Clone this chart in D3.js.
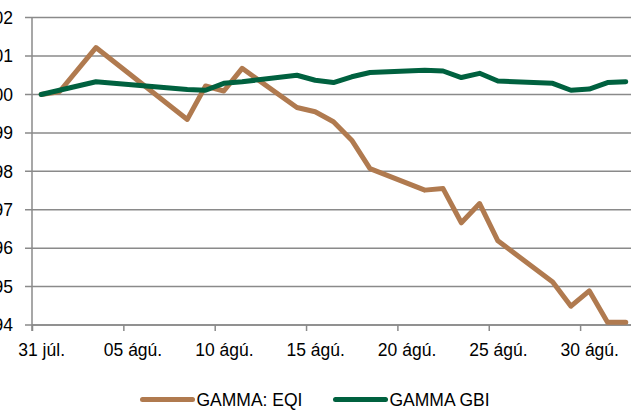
<!DOCTYPE html>
<html>
<head>
<meta charset="utf-8">
<script src="https://cdn.jsdelivr.net/npm/d3@7"></script>
<style>
  body { margin: 0; background: #fff; }
  svg { display: block; font-family: "Liberation Sans", Arial, sans-serif; }
</style>
</head>
<body>
<svg width="631" height="410"></svg>
<script>
const svgWidth = 631;
const svgHeight = 410;

// data (dates as day of month, Jul 31 -> Sep 1)
const dates = [
  "2013-07-31", "2013-08-01", "2013-08-03", "2013-08-08", "2013-08-09",
  "2013-08-10", "2013-08-11", "2013-08-14", "2013-08-15", "2013-08-16",
  "2013-08-17", "2013-08-18", "2013-08-21", "2013-08-22", "2013-08-23",
  "2013-08-24", "2013-08-25", "2013-08-28", "2013-08-29", "2013-08-30",
  "2013-08-31", "2013-09-01",
];
const eqiValues = [
  100.0, 100.07, 101.22, 99.35, 100.22,
  100.09, 100.68, 99.66, 99.55, 99.29,
  98.81, 98.07, 97.51, 97.55, 96.66,
  97.16, 96.19, 95.12, 94.49, 94.89,
  94.07, 94.07,
];
const gbiValues = [
  100.0, 100.11, 100.33, 100.13, 100.11,
  100.29, 100.33, 100.5, 100.37, 100.31,
  100.46, 100.57, 100.63, 100.61, 100.44,
  100.55, 100.35, 100.29, 100.11, 100.14,
  100.31, 100.33,
];
const yTicks = [94, 95, 96, 97, 98, 99, 100, 101, 102];
const xTickDates = ["2013-07-31", "2013-08-05", "2013-08-10", "2013-08-15", "2013-08-20", "2013-08-25", "2013-08-30"];
const xTickLabels = ["31 júl.", "05 ágú.", "10 ágú.", "15 ágú.", "20 ágú.", "25 ágú.", "30 ágú."];
const seriesNames = ["GAMMA: EQI", "GAMMA GBI"];
const seriesColors = ["#b07a4f", "#00613f"];

const svg = d3.select("svg");

const margin = { left: 32, top: 17.6, bottom: 325 };
const gridColor = "#8a8a8a";
const dayPx = 18.27;
const halfDay = 12 * 3600 * 1000;

const parse = d3.utcParse("%Y-%m-%d");
const start = parse("2013-07-31");
const end = d3.utcDay.offset(start, 34);

const xScaler = d3.scaleUtc().domain([start, end]).range([margin.left, margin.left + 34 * dayPx]);
const yScaler = d3.scaleLinear().domain([94, 102]).range([margin.bottom, margin.top]);

// gridlines
svg.append("g")
  .selectAll("line")
  .data(yTicks)
  .join("line")
  .attr("x1", margin.left - 7)
  .attr("x2", svgWidth)
  .attr("y1", (d) => yScaler(d))
  .attr("y2", (d) => yScaler(d))
  .attr("stroke", gridColor)
  .attr("stroke-width", 1.5);

// y labels
svg.append("g")
  .selectAll("text")
  .data(yTicks)
  .join("text")
  .attr("x", 13)
  .attr("y", (d) => yScaler(d))
  .attr("dy", "0.36em")
  .attr("text-anchor", "end")
  .attr("font-size", 17.5)
  .attr("fill", "#000")
  .text((d) => d);

// y axis line
svg.append("line")
  .attr("x1", margin.left).attr("x2", margin.left)
  .attr("y1", margin.top).attr("y2", margin.bottom + 6)
  .attr("stroke", gridColor).attr("stroke-width", 1.5);

// x axis
const tickDates = xTickDates.map(parse);
const xAxisGroup = svg.append("g")
  .attr("transform", `translate(0, ${margin.bottom})`)
  .call(
    d3.axisBottom(xScaler)
      .tickValues(tickDates)
      .tickSize(6)
      .tickSizeOuter(0)
      .tickFormat((d, i) => xTickLabels[i])
  );
xAxisGroup.select(".domain").attr("stroke", gridColor).attr("stroke-width", 1.5)
  .attr("d", `M${margin.left},0H${svgWidth}`);
xAxisGroup.selectAll(".tick line").attr("stroke", gridColor).attr("stroke-width", 1.5);
xAxisGroup.selectAll(".tick text")
  .attr("x", dayPx / 2)
  .attr("y", 19)
  .attr("font-size", 17.5)
  .attr("font-family", "Liberation Sans, Arial, sans-serif")
  .attr("fill", "#000");

// lines
const seriesData = [eqiValues, gbiValues].map((vals) =>
  vals.map((v, i) => ({ date: new Date(parse(dates[i]).getTime() + halfDay), value: v }))
);

const line = d3.line()
  .x((d) => xScaler(d.date))
  .y((d) => yScaler(d.value));

svg.append("g")
  .selectAll("path")
  .data(seriesData)
  .join("path")
  .attr("d", line)
  .attr("fill", "none")
  .attr("stroke", (d, i) => seriesColors[i])
  .attr("stroke-width", 5)
  .attr("stroke-linejoin", "round")
  .attr("stroke-linecap", "round");

// legend
const legendX = [142.5, 335.5];
const legend = svg.append("g")
  .selectAll("g")
  .data(seriesNames)
  .join("g")
  .attr("transform", (d, i) => `translate(${legendX[i]}, 399.5)`);
legend.append("line")
  .attr("x1", 0).attr("x2", 50)
  .attr("stroke", (d, i) => seriesColors[i])
  .attr("stroke-width", 5)
  .attr("stroke-linecap", "round");
legend.append("text")
  .attr("x", 54)
  .attr("y", 6)
  .attr("font-size", 17.5)
  .attr("fill", "#000")
  .text((d) => d);
</script>
</body>
</html>
